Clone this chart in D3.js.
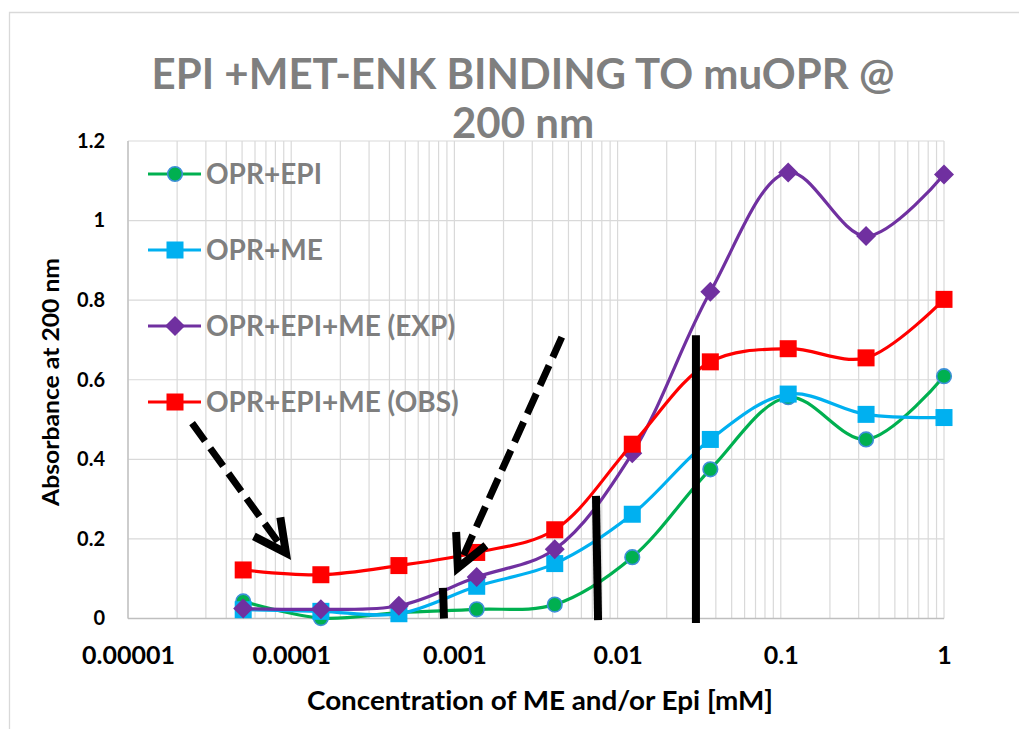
<!DOCTYPE html>
<html>
<head>
<meta charset="utf-8">
<script src="https://cdn.jsdelivr.net/npm/d3@7"></script>
<style>
  body { margin: 0; background: #fff; }
  svg { display: block; font-family: Lato, "Open Sans", sans-serif; font-variant-ligatures: none; }
</style>
</head>
<body>
<svg id="chart" width="1019" height="729"></svg>
<script>
// ---- data ----
var conc = [0.0000508, 0.000152, 0.000457, 0.00137, 0.00412, 0.0123, 0.037, 0.111, 0.333, 1];
var oprEpi   = [0.043, 0.001, 0.015, 0.023, 0.035, 0.154, 0.375, 0.556, 0.450, 0.609];
var oprMe    = [0.022, 0.018, 0.012, 0.081, 0.138, 0.262, 0.450, 0.564, 0.513, 0.505];
var oprEpiMeExp = [0.025, 0.023, 0.032, 0.104, 0.174, 0.415, 0.821, 1.121, 0.961, 1.116];
var oprEpiMeObs = [0.122, 0.110, 0.133, 0.166, 0.223, 0.438, 0.645, 0.678, 0.655, 0.802];

var seriesNames = ["OPR+EPI", "OPR+ME", "OPR+EPI+ME (EXP)", "OPR+EPI+ME (OBS)"];

var xTickValues = [0.00001, 0.0001, 0.001, 0.01, 0.1, 1];
var xTickLabels = ["0.00001", "0.0001", "0.001", "0.01", "0.1", "1"];
var yTickValues = [0, 0.2, 0.4, 0.6, 0.8, 1, 1.2];
var yTickLabels = ["0", "0.2", "0.4", "0.6", "0.8", "1", "1.2"];

// hand drawn annotations, in data units (mM, absorbance)
var arrows = [
  { x1: 0.0000247, y1: 0.491, x2: 0.0000928, y2: 0.165 },
  { x1: 0.00455, y1: 0.707, x2: 0.00105, y2: 0.127 }
];
var bars = [
  { x1: 0.000851, y1: 0.077, x2: 0.000863, y2: 0.0 },
  { x1: 0.00737, y1: 0.308, x2: 0.00759, y2: -0.004 },
  { x1: 0.0302, y1: 0.712, x2: 0.0302, y2: -0.011 }
];

// ---- layout ----
var W = 1019, H = 729;
var plot = { left: 128, right: 944, top: 141, bottom: 618.5 };

var svg = d3.select("#chart");

var x = d3.scaleLog().domain([0.00001, 1]).range([plot.left, plot.right]);
var y = d3.scaleLinear().domain([0, 1.2]).range([plot.bottom, plot.top]);

var styles = [
  { color: "#00b050", shape: "circle" },
  { color: "#00b0f0", shape: "square" },
  { color: "#7030a0", shape: "diamond" },
  { color: "#ff0000", shape: "square" }
];
var seriesValues = [oprEpi, oprMe, oprEpiMeExp, oprEpiMeObs];

// chart border (only left/top visible in the picture)
svg.append("path")
  .attr("d", "M9.5," + H + "V12.5H" + W)
  .attr("fill", "none")
  .attr("stroke", "#d9d9d9")
  .attr("stroke-width", 1.3);

// gridlines
var grid = svg.append("g");
grid.selectAll("line.v")
  .data(x.ticks())
  .enter().append("line")
  .attr("x1", function(d) { return x(d); })
  .attr("x2", function(d) { return x(d); })
  .attr("y1", plot.top)
  .attr("y2", plot.bottom)
  .attr("stroke", "#d9d9d9")
  .attr("stroke-width", 1.2);
grid.selectAll("line.h")
  .data(yTickValues)
  .enter().append("line")
  .attr("x1", plot.left)
  .attr("x2", plot.right)
  .attr("y1", function(d) { return y(d); })
  .attr("y2", function(d) { return y(d); })
  .attr("stroke", "#d9d9d9")
  .attr("stroke-width", 1.2);

// axis lines
svg.append("line")
  .attr("x1", plot.left).attr("x2", plot.left)
  .attr("y1", plot.top).attr("y2", plot.bottom)
  .attr("stroke", "#bfbfbf").attr("stroke-width", 1.3);
svg.append("line")
  .attr("x1", plot.left).attr("x2", plot.right)
  .attr("y1", plot.bottom).attr("y2", plot.bottom)
  .attr("stroke", "#bfbfbf").attr("stroke-width", 1.5);

// axes (labels only)
var xAxis = svg.append("g")
  .attr("transform", "translate(0," + plot.bottom + ")")
  .call(d3.axisBottom(x).tickValues(xTickValues)
    .tickFormat(function(d, i) { return xTickLabels[i]; })
    .tickSize(0).tickPadding(28));
xAxis.select(".domain").remove();
xAxis.selectAll("text")
  .attr("font-family", "Lato, sans-serif")
  .attr("font-size", 25).attr("font-weight", "bold").attr("fill", "#000");

var yAxis = svg.append("g")
  .attr("transform", "translate(" + (plot.left - 23) + ",0)")
  .call(d3.axisLeft(y).tickValues(yTickValues)
    .tickFormat(function(d, i) { return yTickLabels[i]; })
    .tickSize(0).tickPadding(0));
yAxis.select(".domain").remove();
yAxis.selectAll("text")
  .attr("font-family", "Lato, sans-serif")
  .attr("font-size", 20).attr("font-weight", "bold").attr("fill", "#000");

// titles
svg.append("text")
  .attr("x", 523).attr("y", 89)
  .attr("text-anchor", "middle")
  .attr("font-size", 42).attr("font-weight", "bold").attr("fill", "#7f7f7f")
  .text("EPI +MET-ENK BINDING TO muOPR @");
svg.append("text")
  .attr("x", 523).attr("y", 138)
  .attr("text-anchor", "middle")
  .attr("font-size", 42).attr("font-weight", "bold").attr("fill", "#7f7f7f")
  .text("200 nm");

svg.append("text")
  .attr("x", 540).attr("y", 710)
  .attr("text-anchor", "middle")
  .attr("font-size", 26).attr("font-weight", "bold").attr("fill", "#000")
  .attr("textLength", 466).attr("lengthAdjust", "spacingAndGlyphs")
  .text("Concentration of ME and/or Epi [mM]");

svg.append("text")
  .attr("transform", "translate(59,382) rotate(-90)")
  .attr("text-anchor", "middle")
  .attr("font-size", 23).attr("font-weight", "bold").attr("fill", "#000")
  .attr("textLength", 248).attr("lengthAdjust", "spacingAndGlyphs")
  .text("Absorbance at 200 nm");

// markers
function drawMarker(g, shape, color, cx, cy) {
  if (shape == "circle") {
    g.append("circle")
      .attr("cx", cx).attr("cy", cy).attr("r", 7.3)
      .attr("fill", color)
      .attr("stroke", "#3d8fd8").attr("stroke-width", 1.6);
  } else if (shape == "square") {
    g.append("rect")
      .attr("x", cx - 8.5).attr("y", cy - 8.5)
      .attr("width", 17).attr("height", 17)
      .attr("fill", color);
  } else {
    g.append("path")
      .attr("d", d3.symbol().type(d3.symbolSquare).size(200)())
      .attr("transform", "translate(" + cx + "," + cy + ") rotate(45)")
      .attr("fill", color);
  }
}

var line = d3.line()
  .x(function(d) { return x(d[0]); })
  .y(function(d) { return y(d[1]); })
  .curve(d3.curveCatmullRom.alpha(0.5));

seriesValues.forEach(function(vals, s) {
  var pts = conc.map(function(c, i) { return [c, vals[i]]; });
  var g = svg.append("g");
  g.append("path")
    .attr("d", line(pts))
    .attr("fill", "none")
    .attr("stroke", styles[s].color)
    .attr("stroke-width", 3.2)
    .attr("stroke-linejoin", "round");
  pts.forEach(function(p) {
    drawMarker(g, styles[s].shape, styles[s].color, x(p[0]), y(p[1]));
  });
});

// legend
var legend = svg.append("g").attr("transform", "translate(148,174)");
seriesNames.forEach(function(name, i) {
  var ly = i * 76;
  legend.append("line")
    .attr("x1", 0).attr("x2", 53).attr("y1", ly).attr("y2", ly)
    .attr("stroke", styles[i].color).attr("stroke-width", 3.2);
  drawMarker(legend, styles[i].shape, styles[i].color, 27, ly);
  legend.append("text")
    .attr("x", 58).attr("y", ly + 10)
    .attr("font-size", 28).attr("font-weight", "bold").attr("fill", "#7f7f7f")
    .text(name);
});

// annotations: dashed arrows and black bars
var ann = svg.append("g");
arrows.forEach(function(a) {
  var sx = x(a.x1), sy = y(a.y1), tx = x(a.x2), ty = y(a.y2);
  ann.append("line")
    .attr("x1", sx).attr("y1", sy).attr("x2", tx).attr("y2", ty)
    .attr("stroke", "#000").attr("stroke-width", 7)
    .attr("stroke-dasharray", "22,9");
  var ang = Math.atan2(sy - ty, sx - tx), len = 36, spread = 27 * Math.PI / 180;
  var p1 = [tx + len * Math.cos(ang - spread), ty + len * Math.sin(ang - spread)];
  var p2 = [tx + len * Math.cos(ang + spread), ty + len * Math.sin(ang + spread)];
  ann.append("path")
    .attr("d", "M" + p1 + "L" + tx + "," + ty + "L" + p2)
    .attr("fill", "none")
    .attr("stroke", "#000").attr("stroke-width", 8)
    .attr("stroke-linejoin", "miter");
});
bars.forEach(function(b) {
  ann.append("line")
    .attr("x1", x(b.x1)).attr("y1", y(b.y1))
    .attr("x2", x(b.x2)).attr("y2", y(b.y2))
    .attr("stroke", "#000").attr("stroke-width", 8);
});
</script>
</body>
</html>
